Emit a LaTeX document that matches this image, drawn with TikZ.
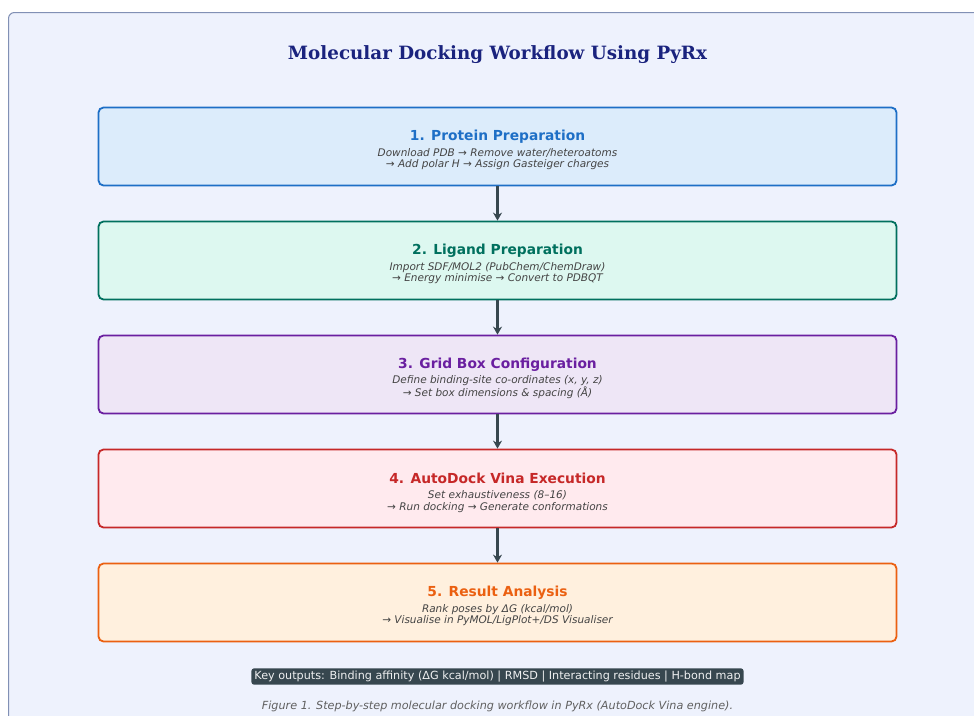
\documentclass[tikz,border=0pt]{standalone}
\usepackage{fontspec}
\setmainfont{DejaVu Sans}
\newfontfamily\headfont{DejaVu Serif}
\usetikzlibrary{arrows.meta}

\definecolor{panelbg}{HTML}{EEF2FD}
\definecolor{panelline}{HTML}{8190B5}
\definecolor{headnavy}{HTML}{1A237E}
\definecolor{slate}{HTML}{37474F}
\definecolor{desctext}{HTML}{444444}
\definecolor{protline}{HTML}{1E6FC6}
\definecolor{protfill}{HTML}{DCECFB}
\definecolor{ligline}{HTML}{00705E}
\definecolor{ligfill}{HTML}{DDF8F0}
\definecolor{gridline}{HTML}{6A1FA0}
\definecolor{gridfill}{HTML}{EEE6F6}
\definecolor{vinaline}{HTML}{C62828}
\definecolor{vinafill}{HTML}{FFEAEE}
\definecolor{resline}{HTML}{EB6011}
\definecolor{resfill}{HTML}{FFF0DE}

\begin{document}
\begin{tikzpicture}[x=1pt,y=-1pt,
  stagebox/.style={draw=#1, line width=1.8pt, rounded corners=5pt,
    minimum width=798pt, minimum height=78pt, inner sep=0pt},
  stagetitle/.style={text=#1, font=\fontsize{13.8}{16}\selectfont\bfseries},
  stagedesc/.style={text=desctext, align=center, font=\fontsize{10.5}{11.5}\selectfont\itshape},
  flow/.style={-{Stealth[length=8pt,width=9pt]}, line width=2.4pt, draw=slate}]
  \useasboundingbox (0,0) rectangle (974,715);
  \clip (0,0) rectangle (974,715);
  \fill[white] (0,0) rectangle (974,715);
  \draw[panelline, fill=panelbg, line width=1pt, rounded corners=6pt] (8.5,12.5) rectangle (1000,740);

  % heading
  \node[text=headnavy, font=\headfont\fontsize{18.3}{21}\selectfont\bfseries] (head) at (497.5,55) {Molecular Docking Workflow Using PyRx};

  % stages
  \node[stagebox=protline, fill=protfill] (prot) at (497.5,146.5) {};
  \node[stagetitle=protline] (protT) at (497.5,136.5) {1. Protein Preparation};
  \node[stagedesc] (protD) at (497.5,159) {Download PDB → Remove water/heteroatoms\\→ Add polar H → Assign Gasteiger charges};

  \node[stagebox=ligline, fill=ligfill] (lig) at (497.5,260.5) {};
  \node[stagetitle=ligline] (ligT) at (497.5,250.5) {2. Ligand Preparation};
  \node[stagedesc] (ligD) at (497.5,273) {Import SDF/MOL2 (PubChem/ChemDraw)\\→ Energy minimise → Convert to PDBQT};

  \node[stagebox=gridline, fill=gridfill] (grid) at (497.5,374.5) {};
  \node[stagetitle=gridline] (gridT) at (497.5,364.5) {3. Grid Box Configuration};
  \node[stagedesc] (gridD) at (497.5,387) {Define binding-site co-ordinates (x, y, z)\\→ Set box dimensions \& spacing (Å)};

  \node[stagebox=vinaline, fill=vinafill] (vina) at (497.5,488.5) {};
  \node[stagetitle=vinaline] (vinaT) at (497.5,478.5) {4. AutoDock Vina Execution};
  \node[stagedesc] (vinaD) at (497.5,501.5) {Set exhaustiveness (8–16)\\→ Run docking → Generate conformations};

  \node[stagebox=resline, fill=resfill] (res) at (497.5,602.5) {};
  \node[stagetitle=resline] (resT) at (497.5,592.5) {5. Result Analysis};
  \node[stagedesc] (resD) at (497.5,615) {Rank poses by ΔG (kcal/mol)\\→ Visualise in PyMOL/LigPlot+/DS Visualiser};

  % arrows between stages
  \draw[flow] (prot.south) -- (lig.north);
  \draw[flow] (lig.south) -- (grid.north);
  \draw[flow] (grid.south) -- (vina.north);
  \draw[flow] (vina.south) -- (res.north);

  % outputs and caption
  \node[fill=slate, text=white!92!slate, rounded corners=2.5pt, inner xsep=3pt, inner ysep=2.5pt,
    font=\fontsize{11.2}{13}\selectfont] (keys) at (497.5,676.5) {Key outputs: Binding affinity (ΔG kcal/mol) | RMSD | Interacting residues | H-bond map};
  \node[text=desctext!85!white, font=\fontsize{11.2}{13}\selectfont\itshape] (cap) at (497.5,706.5) {Figure 1. Step-by-step molecular docking workflow in PyRx (AutoDock Vina engine).};
\end{tikzpicture}
\end{document}
